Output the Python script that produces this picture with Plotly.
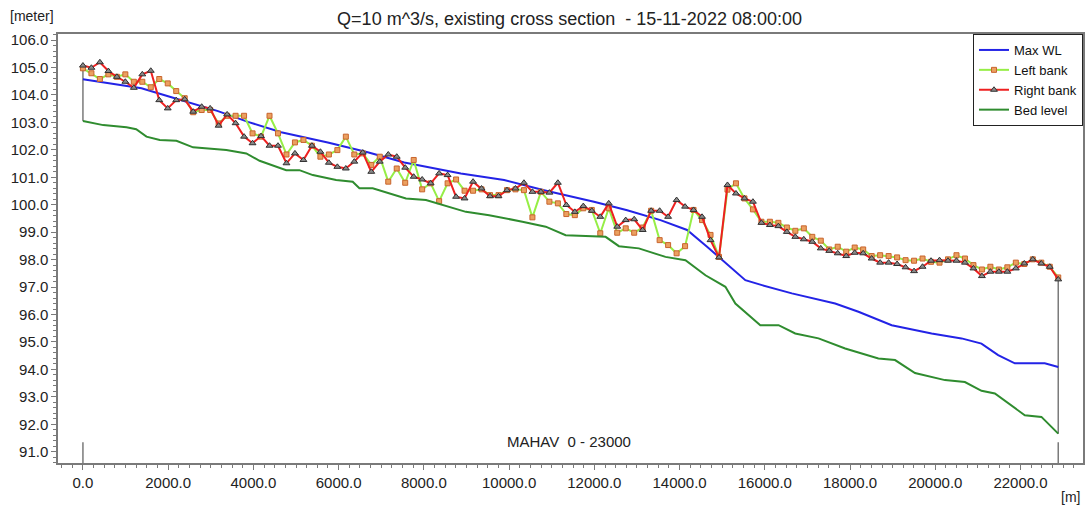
import plotly.graph_objects as go

# Cross-section chainages [m] along branch MAHAV
chainage = [0, 199, 398, 597, 796, 995, 1194, 1393, 1592, 1791, 1990, 2189, 2388, 2587, 2786,
            2985, 3184, 3383, 3582, 3781, 3980, 4179, 4378, 4577, 4776, 4975, 5174, 5373, 5572,
            5771, 5970, 6169, 6368, 6567, 6766, 6965, 7164, 7363, 7562, 7761, 7960, 8159, 8358,
            8557, 8756, 8955, 9154, 9353, 9552, 9751, 9950, 10149, 10348, 10547, 10746, 10945,
            11144, 11343, 11542, 11741, 11940, 12139, 12338, 12537, 12736, 12935, 13134, 13333,
            13532, 13731, 13930, 14129, 14328, 14527, 14726, 14925, 15124, 15323, 15522, 15721,
            15920, 16119, 16318, 16517, 16716, 16915, 17114, 17313, 17512, 17711, 17910, 18109,
            18308, 18507, 18706, 18905, 19104, 19303, 19502, 19701, 19900, 20099, 20298, 20497,
            20696, 20895, 21094, 21293, 21492, 21691, 21890, 22089, 22288, 22487, 22686, 22885]

left_bank = [104.97, 104.79, 104.58, 104.75, 104.66, 104.75, 104.48, 104.48, 104.28, 104.58,
             104.42, 104.14, 103.88, 103.37, 103.45, 103.45, 102.96, 103.24, 103.24, 103.24,
             102.60, 102.48, 103.24, 102.60, 101.83, 102.27, 102.36, 102.15, 101.75, 101.83,
             101.99, 102.48, 101.83, 101.87, 101.45, 101.75, 100.84, 101.32, 100.80, 101.63,
             100.56, 100.78, 100.13, 100.78, 100.92, 100.51, 100.51, 100.56, 100.35, 100.35,
             100.53, 100.56, 100.53, 99.54, 100.47, 100.11, 100.05, 99.66, 99.62, 99.87,
             99.81, 98.96, 99.87, 98.98, 99.14, 98.98, 99.17, 99.78, 98.71, 98.53,
             98.23, 98.49, 99.81, 99.44, 98.90, 98.10, 100.55, 100.78, 100.23, 99.83,
             99.38, 99.38, 99.34, 99.17, 99.05, 99.14, 98.83, 98.69, 98.37, 98.47,
             98.29, 98.44, 98.37, 98.13, 98.16, 98.13, 98.08, 97.98, 97.96, 98.04,
             97.92, 97.89, 98.01, 98.16, 98.04, 97.80, 97.64, 97.74, 97.64, 97.72,
             97.89, 97.84, 98.01, 97.89, 97.74, 97.35]

right_bank = [105.07, 104.99, 105.19, 104.87, 104.66, 104.48, 104.26, 104.75, 104.88, 103.81,
              103.51, 103.81, 103.84, 103.39, 103.57, 103.51, 102.88, 103.29, 102.97, 102.48,
              102.24, 102.50, 102.15, 102.15, 101.51, 101.87, 101.63, 102.15, 101.93, 101.53,
              101.38, 101.32, 101.57, 101.90, 101.20, 101.57, 101.83, 101.75, 101.35, 101.02,
              100.92, 100.78, 101.14, 101.08, 100.29, 100.23, 100.84, 100.59, 100.31, 100.31,
              100.53, 100.59, 100.80, 100.47, 100.47, 100.44, 100.80, 99.99, 99.74, 99.95,
              99.78, 99.56, 100.05, 99.20, 99.44, 99.47, 99.08, 99.78, 99.78, 99.56,
              100.17, 99.93, 99.81, 99.56, 98.71, 98.08, 100.72, 100.41, 100.23, 100.11,
              99.34, 99.26, 99.22, 99.01, 98.83, 98.74, 98.65, 98.41, 98.32, 98.23,
              98.13, 98.25, 98.23, 98.04, 97.89, 97.89, 97.84, 97.72, 97.58, 97.74,
              97.96, 97.98, 97.96, 97.96, 97.89, 97.68, 97.40, 97.56, 97.56, 97.56,
              97.68, 97.86, 98.01, 97.86, 97.74, 97.28]

wl_chainage = [0, 1374, 2155, 3169, 3872, 4652, 5745, 6682, 7541, 8868, 9883, 10820, 11991,
               12771, 13552, 14176, 14645, 14958, 15543, 15933, 16635, 17650, 18197, 18977,
               19914, 20616, 21084, 21475, 21866, 22569, 22885]
max_wl = [104.57, 104.24, 103.88, 103.41, 103.02, 102.64, 102.27, 101.91, 101.54, 101.14,
          100.90, 100.53, 100.11, 99.80, 99.44, 99.08, 98.47, 98.04, 97.25, 97.07, 96.77,
          96.40, 96.10, 95.61, 95.31, 95.13, 94.94, 94.52, 94.22, 94.22, 94.09]

bed_chainage = [0, 476, 1023, 1250, 1491, 1803, 2194, 2584, 3365, 3833, 4145, 4770, 5080,
                5394, 5941, 6330, 6487, 6799, 7580, 8049, 8986, 9532, 10312, 10859, 11327,
                12264, 12576, 13044, 13669, 14138, 14607, 15075, 15309, 15894, 16323, 16714,
                17260, 17885, 18665, 19056, 19524, 20227, 20695, 21085, 21398, 22100, 22490,
                22885]
bed_level = [103.05, 102.90, 102.82, 102.75, 102.48, 102.36, 102.33, 102.09, 101.99, 101.87,
             101.60, 101.26, 101.26, 101.08, 100.90, 100.84, 100.60, 100.60, 100.23, 100.17,
             99.74, 99.62, 99.38, 99.20, 98.89, 98.83, 98.49, 98.41, 98.10, 97.98, 97.43,
             97.01, 96.40, 95.61, 95.61, 95.31, 95.13, 94.76, 94.40, 94.34, 93.87, 93.61,
             93.54, 93.22, 93.12, 92.33, 92.27, 91.66]

x_ticks = [0, 2000, 4000, 6000, 8000, 10000, 12000, 14000, 16000, 18000, 20000, 22000]
x_tick_text = ["0.0", "2000.0", "4000.0", "6000.0", "8000.0", "10000.0", "12000.0",
               "14000.0", "16000.0", "18000.0", "20000.0", "22000.0"]

X_RANGE = [-585, 23466]
Y_RANGE = [90.59, 106.22]
FONT = "Liberation Sans, Arial, sans-serif"
GREY = "#7a7a7a"

fig = go.Figure()

# end walls of the longitudinal profile (bed to top of bank)
for i in (0, -1):
    fig.add_trace(go.Scatter(
        x=[chainage[i], chainage[i]], y=[bed_level[i], max(left_bank[i], right_bank[i])],
        mode="lines", line=dict(color=GREY, width=1.5), showlegend=False, hoverinfo="skip"))

fig.add_trace(go.Scatter(
    x=wl_chainage, y=max_wl, name="Max WL", mode="lines",
    line=dict(color="#2323e6", width=2)))
fig.add_trace(go.Scatter(
    x=chainage, y=left_bank, name="Left bank", mode="lines+markers",
    line=dict(color="#96ee46", width=2),
    marker=dict(symbol="square", size=5, color="#eba060", line=dict(color="#c8642d", width=1))))
fig.add_trace(go.Scatter(
    x=chainage, y=right_bank, name="Right bank", mode="lines+markers",
    line=dict(color="#ee2020", width=2),
    marker=dict(symbol="triangle-up", size=6, color="#8a8a8a", line=dict(color="#303030", width=1))))
fig.add_trace(go.Scatter(
    x=bed_chainage, y=bed_level, name="Bed level", mode="lines",
    line=dict(color="#2f8c2f", width=2)))

# branch markers along the bottom
for c in (chainage[0], chainage[-1]):
    fig.add_shape(type="line", x0=c, x1=c, y0=Y_RANGE[0], y1=91.35,
                  line=dict(color=GREY, width=1.5))
fig.add_annotation(x=11400, y=91.38, text="MAHAV  0 - 23000", showarrow=False,
                   font=dict(family=FONT, size=15, color="#222"), yanchor="middle")

fig.add_annotation(xref="paper", yref="paper", x=-0.049, y=1.0, yshift=18,
                   text="[meter]", showarrow=False, xanchor="left", yanchor="middle",
                   font=dict(family=FONT, size=14, color="#222"))
fig.add_annotation(xref="paper", yref="paper", x=0.988, y=0, yshift=-34,
                   text="[m]", showarrow=False, xanchor="center", yanchor="middle",
                   font=dict(family=FONT, size=14, color="#222"))

axis_common = dict(showgrid=False, zeroline=False, showline=True, mirror=True,
                   linecolor=GREY, linewidth=1.5, ticks="outside", ticklen=5,
                   tickcolor=GREY, tickfont=dict(family=FONT, size=15, color="#222"))

fig.update_layout(
    width=1089, height=509,
    margin=dict(l=58, r=4, t=34, b=46),
    paper_bgcolor="white", plot_bgcolor="white",
    title=dict(text="Q=10 m^3/s, existing cross section  - 15-11-2022 08:00:00",
               x=0.523, xanchor="center", y=0.964, yanchor="middle",
               font=dict(family=FONT, size=18, color="#222")),
    xaxis=dict(range=X_RANGE, tickvals=x_ticks, ticktext=x_tick_text,
               minor=dict(dtick=250, ticks="outside", ticklen=3, tickcolor=GREY),
               **axis_common),
    yaxis=dict(range=Y_RANGE, dtick=1, tick0=91, tickformat=".1f",
               minor=dict(dtick=0.2, ticks="outside", ticklen=3, tickcolor=GREY),
               **axis_common),
    legend=dict(x=1, xanchor="right", y=1, yanchor="top", bgcolor="white",
                bordercolor="#222", borderwidth=1, tracegroupgap=0,
                font=dict(family=FONT, size=13, color="#111"), itemwidth=30),
    showlegend=True,
)

fig.write_html("out.html")
